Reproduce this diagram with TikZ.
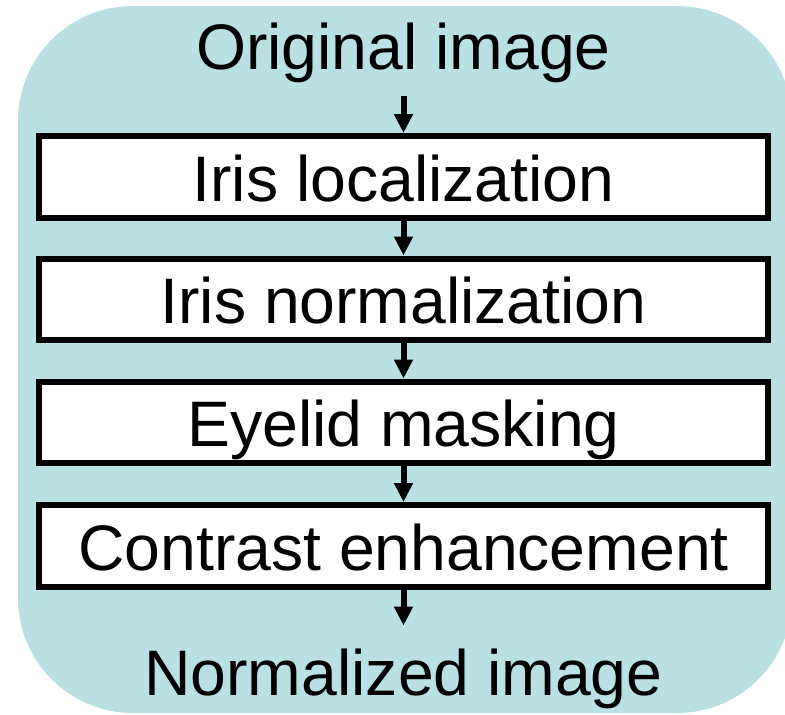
\documentclass[tikz,border=0pt]{standalone}
\usepackage{fontspec}
\setmainfont{Liberation Sans}
\usetikzlibrary{positioning,arrows.meta}
\definecolor{bgteal}{RGB}{185,224,227}

\tikzset{
    stage/.style={draw=black, fill=white, line width=0.12cm, minimum width=14.58cm,
        minimum height=1.64cm, inner sep=0pt, text height=0.96cm, text depth=0pt},
    label/.style={inner sep=0pt, anchor=base},
    flow/.style={line width=0.12cm, -{Triangle[length=0.38cm,width=0.36cm]}}
}

\begin{document}
\begin{tikzpicture}[x=0.02cm, y=-0.02cm, font=\fontsize{36.6}{40}\selectfont]
    \useasboundingbox (0,0) rectangle (785,714);
    \begin{scope}
        \clip (0,0) rectangle (785,714);
        \fill[bgteal, rounded corners=2.3cm] (18,6) rectangle (792,713);
    \end{scope}

    \node[label] (orig) at (403.5,69) {Original image};
    \node[stage] (loc) at (403.5,177) {Iris localization};
    \node[stage] (nrm) at (403.5,299.5) {Iris normalization};
    \node[stage] (lid) at (403.5,422.5) {Eyelid masking};
    \node[stage] (con) at (403.5,546) {Contrast enhancement};
    \node[label] (out) at (403.5,695) {Normalized image};

    \draw[flow, shorten <=0.26cm] (orig.south) -- (loc.north);
    \draw[flow] (loc) -- (nrm);
    \draw[flow] (nrm) -- (lid);
    \draw[flow] (lid) -- (con);
    \draw[flow, shorten >=0.45cm] (con.south) -- (out.north);
\end{tikzpicture}
\end{document}
